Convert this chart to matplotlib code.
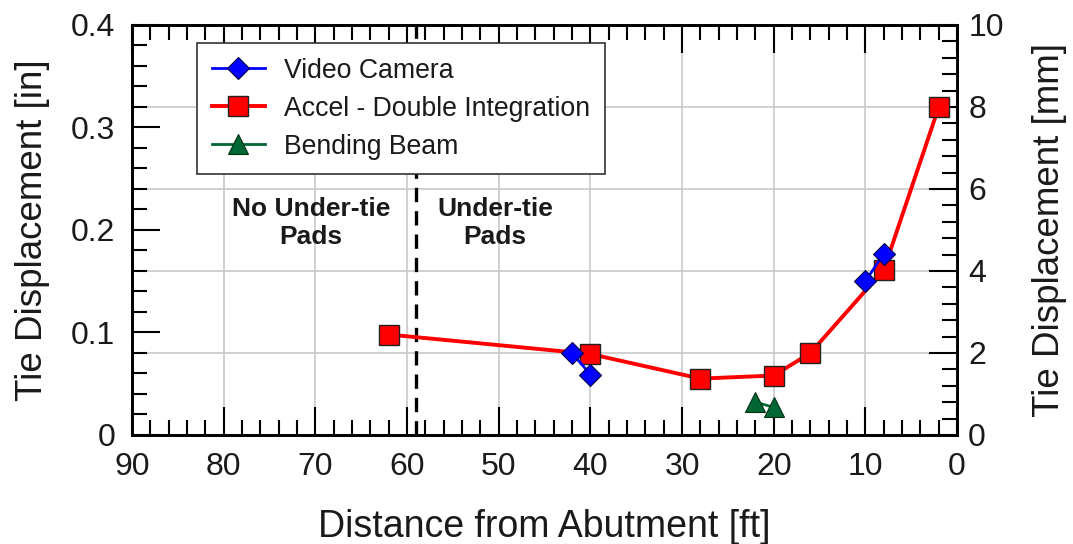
import numpy as np
import matplotlib
matplotlib.use("Agg")
import matplotlib.pyplot as plt
from matplotlib.ticker import MultipleLocator

plt.rcParams["font.family"] = ["Liberation Sans", "DejaVu Sans"]

# Accel - double integration
accel_ft = [62, 40, 28, 20, 16, 8, 2]
accel_in = [0.098, 0.079, 0.055, 0.058, 0.080, 0.161, 0.320]

# Video camera (two separate pairs)
video_ft = [42, 40, 10, 8]
video_in = [0.080, 0.059, 0.150, 0.177]

# Bending beam
beam_ft = [22, 20]
beam_in = [0.032, 0.027]

pad_boundary_ft = 59
region_labels = ["No Under-tie\nPads", "Under-tie\nPads"]
region_ft = [70.5, 50.4]
region_y = 0.207

RED = "#ff0000"
BLUE = "#0000ff"
GREEN = "#006633"
GRID = "#c8c8c8"
TXT = "#1a1a1a"

fig = plt.figure(figsize=(10.73, 5.44), dpi=100)
ax = fig.add_axes([0.123, 0.2004, 0.769, 0.7537])
ax2 = ax.twinx()

# put mm axis (with its grid) under the main axis
ax2.set_zorder(ax.get_zorder() - 1)
ax.patch.set_visible(False)

ax.set_xlim(90, 0)
ax.set_ylim(0, 0.4)
ax2.set_ylim(0, 10)

ax.xaxis.set_major_locator(MultipleLocator(10))
ax.xaxis.set_minor_locator(MultipleLocator(2))
ax.yaxis.set_minor_locator(MultipleLocator(0.02))
ax2.yaxis.set_major_locator(MultipleLocator(2))
ax2.yaxis.set_minor_locator(MultipleLocator(0.4))

ax.set_yticks([0, 0.1, 0.2, 0.3, 0.4])
ax.set_yticklabels(["0", "0.1", "0.2", "0.3", "0.4"])

# grid: vertical from x axis, horizontal from mm axis
ax.grid(True, axis="x", which="major", color=GRID, lw=1.2, zorder=0)
ax2.grid(True, axis="y", which="major", color=GRID, lw=1.2)

ax.tick_params(axis="both", which="both", direction="in", width=1.5, labelsize=23,
               color="black", labelcolor=TXT)
ax.tick_params(which="major", length=20)
ax.tick_params(which="minor", length=11)
ax.tick_params(axis="x", which="both", top=True, bottom=True, pad=12)
ax.tick_params(axis="y", which="both", left=True, right=False, pad=12)
ax2.tick_params(axis="y", which="both", direction="in", width=1.5, labelsize=23,
                right=True, left=False, pad=8, labelcolor=TXT)
ax2.tick_params(axis="y", which="major", length=20)
ax2.tick_params(axis="y", which="minor", length=11)
ax2.tick_params(axis="x", which="both", bottom=False, top=False, labelbottom=False)

for a in (ax, ax2):
    for s in a.spines.values():
        s.set_linewidth(2.0)
        s.set_color("black")

ax.axvline(pad_boundary_ft, color="black", ls=(0, (4.3, 2.7)), lw=2.4, zorder=2)

ax.plot(accel_ft, accel_in, "-s", color=RED, lw=2.8, ms=14.5, mfc=RED, mec="#222222", mew=1.0,
        label="Accel - Double Integration", zorder=3)
ax.plot(video_ft[:2], video_in[:2], "-D", color=BLUE, lw=2, ms=11.5, mfc=BLUE, mec="#000044", mew=0.8,
        label="Video Camera", zorder=4)
ax.plot(video_ft[2:], video_in[2:], "-D", color=BLUE, lw=2, ms=11.5, mfc=BLUE, mec="#000044", mew=0.8,
        zorder=4)
ax.plot(beam_ft, beam_in, "-^", color=GREEN, lw=2, ms=14, mfc=GREEN, mec="#003311", mew=0.8,
        label="Bending Beam", zorder=4)

for lbl, xf in zip(region_labels, region_ft):
    ax.text(xf, region_y, lbl, ha="center", va="center", fontsize=19, fontweight="bold",
            linespacing=1.2, color=TXT)

ax.set_xlabel("Distance from Abutment [ft]", fontsize=27, labelpad=20, color=TXT)
ax.set_ylabel("Tie Displacement [in]", fontsize=26.5, labelpad=15, color=TXT)
ax2.set_ylabel("Tie Displacement [mm]", fontsize=26.5, labelpad=20, color=TXT)

handles, labels = ax.get_legend_handles_labels()
order = [1, 0, 2]
leg = ax.legend([handles[i] for i in order], [labels[i] for i in order],
                loc="upper left", bbox_to_anchor=(0.079, 0.956), borderaxespad=0,
                fontsize=19.2, frameon=True, fancybox=False, framealpha=1,
                edgecolor="#333333", handlelength=2.0, labelspacing=0.45,
                borderpad=0.55, handletextpad=0.7)
leg.get_frame().set_linewidth(1.2)
for t in leg.get_texts():
    t.set_color(TXT)
leg.set_zorder(10)

fig.savefig("out.png", dpi=100)
